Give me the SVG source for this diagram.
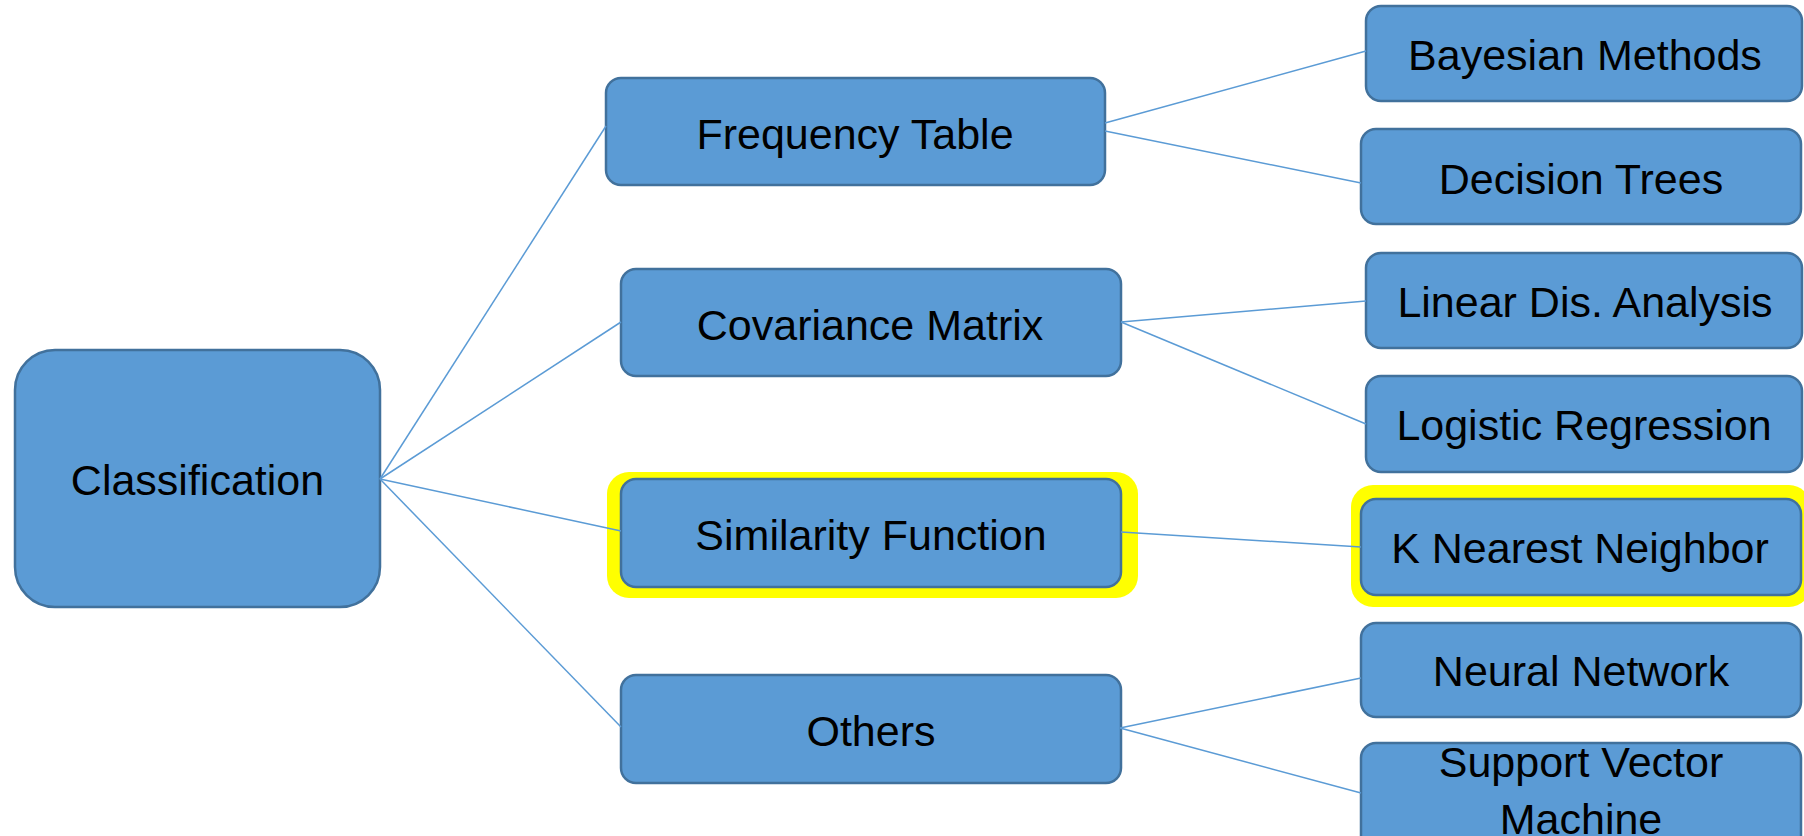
<svg xmlns="http://www.w3.org/2000/svg" width="1804" height="836" viewBox="0 0 1804 836">
<style>
.box{fill:#5B9BD5;stroke:#41719C;stroke-width:2.5}
.hl{fill:#FFFF00}
.lbl{font-family:"Liberation Sans",Arial,sans-serif;font-size:43px;fill:#000;text-anchor:middle}
.conn line{stroke:#5B9BD5;stroke-width:1.5}
</style>
<rect width="1804" height="836" fill="#fff"/>
<g id="classification">
<rect class="box" x="15" y="350" width="365" height="257" rx="40"/>
<text class="lbl" x="197.5" y="495">Classification</text>
</g>
<g id="frequency-table">
<rect class="box" x="606" y="78" width="499" height="107" rx="15"/>
<text class="lbl" x="855" y="149">Frequency Table</text>
</g>
<g id="covariance-matrix">
<rect class="box" x="621" y="269" width="500" height="107" rx="15"/>
<text class="lbl" x="870" y="340">Covariance Matrix</text>
</g>
<g id="similarity-function">
<rect class="hl" x="607" y="472" width="531" height="126" rx="22"/>
<rect class="box" x="621" y="479" width="500" height="108" rx="15"/>
<text class="lbl" x="871" y="550">Similarity Function</text>
</g>
<g id="others">
<rect class="box" x="621" y="675" width="500" height="108" rx="15"/>
<text class="lbl" x="871" y="746">Others</text>
</g>
<g id="bayesian-methods">
<rect class="box" x="1366" y="6" width="436" height="95" rx="15"/>
<text class="lbl" x="1585" y="70">Bayesian Methods</text>
</g>
<g id="decision-trees">
<rect class="box" x="1361" y="129" width="440" height="95" rx="15"/>
<text class="lbl" x="1581" y="194">Decision Trees</text>
</g>
<g id="linear-dis-analysis">
<rect class="box" x="1366" y="253" width="436" height="95" rx="15"/>
<text class="lbl" x="1585" y="317">Linear Dis. Analysis</text>
</g>
<g id="logistic-regression">
<rect class="box" x="1366" y="376" width="436" height="96" rx="15"/>
<text class="lbl" x="1584" y="440">Logistic Regression</text>
</g>
<g id="k-nearest-neighbor">
<rect class="hl" x="1351" y="485" width="460" height="122" rx="22"/>
<rect class="box" x="1361" y="499" width="440" height="96" rx="15"/>
<text class="lbl" x="1580" y="563">K Nearest Neighbor</text>
</g>
<g id="neural-network">
<rect class="box" x="1361" y="623" width="440" height="94" rx="15"/>
<text class="lbl" x="1581" y="686">Neural Network</text>
</g>
<g id="support-vector-machine">
<rect class="box" x="1361" y="743" width="440" height="110" rx="15"/>
<text class="lbl" x="1581" y="777">Support Vector</text>
<text class="lbl" x="1581" y="834">Machine</text>
</g>
<g id="connectors" class="conn">
<line x1="380" y1="479" x2="606" y2="126"/>
<line x1="380" y1="479" x2="621" y2="322"/>
<line x1="380" y1="479" x2="621" y2="531"/>
<line x1="380" y1="479" x2="621" y2="727"/>
<line x1="1105" y1="123" x2="1366" y2="51"/>
<line x1="1105" y1="131" x2="1361" y2="183"/>
<line x1="1121" y1="322" x2="1366" y2="301"/>
<line x1="1121" y1="322" x2="1366" y2="424"/>
<line x1="1121" y1="532" x2="1361" y2="547"/>
<line x1="1120" y1="728" x2="1361" y2="678"/>
<line x1="1120" y1="728" x2="1361" y2="793"/>
</g>
</svg>
